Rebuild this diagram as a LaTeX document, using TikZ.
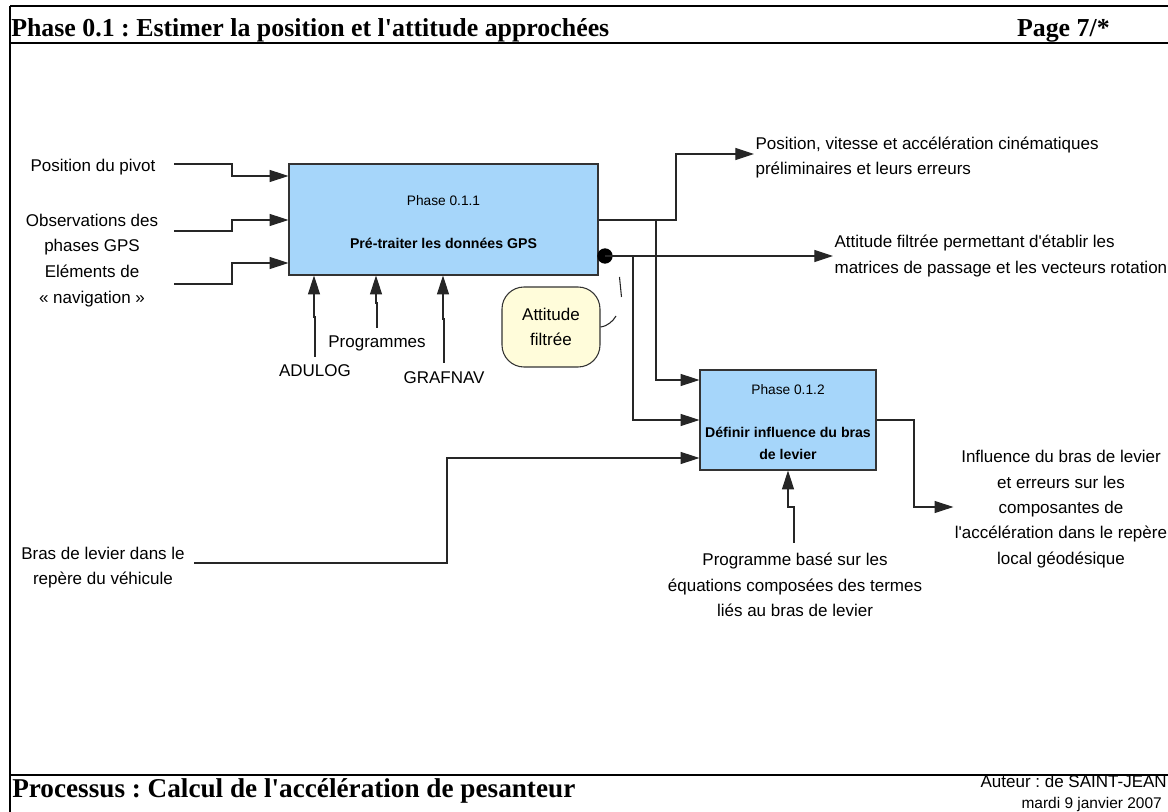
\documentclass[tikz,border=0pt]{standalone}
\usepackage{fontspec}
\setmainfont{Liberation Sans}
\newfontfamily\headfont{Liberation Serif}
\usetikzlibrary{arrows.meta,positioning}
\definecolor{phaseblue}{RGB}{166,214,250}
\definecolor{notecream}{RGB}{255,252,218}
\definecolor{edgegray}{RGB}{51,51,51}
\frenchspacing

\begin{document}
\begin{tikzpicture}[
    x=0.75pt, y=-0.75pt,
    phasebox/.style={draw=edgegray, fill=phaseblue, line width=0.9pt, inner sep=0pt},
    phaseid/.style={font=\fontsize{10.3}{12}\selectfont, inner sep=0pt},
    phasename/.style={font=\bfseries\fontsize{10.6}{16.5}\selectfont, align=center, inner sep=0pt},
    txt/.style={font=\fontsize{12.75}{19}\selectfont, align=center, inner sep=1pt},
    notebox/.style={draw=edgegray, fill=notecream, rounded corners=16.5pt, line width=0.8pt,
        minimum width=73.5pt, minimum height=60pt, inner sep=0pt, align=center,
        font=\fontsize{12.75}{19}\selectfont},
    flow/.style={-{Triangle[length=14pt, width=9pt]}, line width=0.8pt, black!85},
    wire/.style={line width=0.8pt, black!85},
    frameline/.style={line width=1.6pt},
    headtext/.style={font=\headfont\bfseries\fontsize{19.4}{22}\selectfont, inner sep=0pt}
]
    \useasboundingbox (0,0) rectangle (1168,812);

    % Frame
    \draw[line width=1pt] (10,6) -- (1168,6);
    \draw[frameline] (10,6) -- (10,812);
    \draw[frameline] (10,43) -- (1168,43);
    \draw[frameline] (10,775) -- (1168,775);
    \node[headtext, anchor=base west] (title) at (11,37) {Phase 0.1 : Estimer la position et l\textquotesingle attitude approchées};
    \node[headtext, anchor=base east] (page) at (1110,37) {Page 7/*};
    \node[headtext, anchor=base west, font=\headfont\bfseries\fontsize{20.4}{24}\selectfont] (proc) at (12,797) {Processus : Calcul de l\textquotesingle accélération de pesanteur};
    \node[anchor=base east, inner sep=0pt, font=\fontsize{12.75}{15}\selectfont] (author) at (1167,787) {Auteur : de SAINT-JEAN};
    \node[anchor=base east, inner sep=0pt, font=\fontsize{11.6}{14}\selectfont] (date) at (1162,808) {mardi 9 janvier 2007};

    % Phases
    \node[phasebox, minimum width=231.75pt, minimum height=83.25pt] (p011) at (443.5,219.5) {};
    \node[phaseid] (p011id) at (443.5,201) {Phase 0.1.1};
    \node[phasename] (p011name) at (443.5,243) {Pré-traiter les données GPS};
    \node[phasebox, minimum width=132pt, minimum height=75pt] (p012) at (788,420) {};
    \node[phaseid] (p012id) at (788,390) {Phase 0.1.2};
    \node[phasename] (p012name) at (788,443) {Définir influence du bras\\de levier};
    \node[notebox] (filt) at (551,327) {Attitude\\filtrée};

    % Labels
    \node[txt] (pivot) at (93,167) {Position du pivot};
    \node[txt] (obs) at (92,234.5) {Observations des\\phases GPS};
    \node[txt] (nav) at (92,286) {Eléments de\\« navigation »};
    \node[txt] (adulog) at (315,371) {ADULOG};
    \node[txt] (prog) at (377,343) {Programmes};
    \node[txt] (grafnav) at (444,378) {GRAFNAV};
    \node[txt, align=left, anchor=west] (kin) at (754,157.5) {Position, vitesse et accélération cinématiques\\préliminaires et leurs erreurs};
    \node[txt, align=left, anchor=west] (att) at (833,256) {Attitude filtrée permettant d\textquotesingle établir les\\matrices de passage et les vecteurs rotation};
    \node[txt] (bras) at (103,567.5) {Bras de levier dans le\\repère du véhicule};
    \node[txt] (eq) at (795,585) {Programme basé sur les\\équations composées des termes\\liés au bras de levier};
    \node[txt] (infl) at (1061,509) {Influence du bras de levier\\et erreurs sur les\\composantes de\\l\textquotesingle accélération dans le repère\\local géodésique};

    % Inputs
    \coordinate (c-pivot) at (174,164);
    \coordinate (c-obs) at (174,231);
    \coordinate (c-nav) at (174,284);
    \coordinate (c-bras) at (194,563);
    \draw[flow] (c-pivot) -- (232,164) |- (p011.west |- 0,176);
    \draw[flow] (c-obs) -- (232,231) |- (p011.west |- 0,220);
    \draw[flow] (c-nav) -- (232,284) |- (p011.west |- 0,263);
    \draw[flow] (c-bras) -| (447,458) -- (p012.west |- 0,458);

    % Mechanisms
    \coordinate (c-adulog) at (315,357);
    \coordinate (c-prog) at (377,328);
    \coordinate (c-grafnav) at (444,363);
    \coordinate (c-eq) at (794,543);
    \draw[flow] (c-adulog) -- (315,317) -- (314,317) -- (p011.south -| 314,0);
    \draw[flow] (c-prog) -- (377,303) -- (376,303) -- (p011.south -| 376,0);
    \draw[flow] (c-grafnav) -- (444,319) -- (443,319) -- (p011.south -| 443,0);
    \draw[flow] (c-eq) -- (794,507) -| (p012.south);

    % Outputs
    \node[circle, fill=black, inner sep=0pt, minimum size=11.5pt] (dot) at (605,256) {};
    \coordinate (j-kin) at (656,220);
    \coordinate (j-att) at (633,256);
    \draw[flow] (p011.east |- 0,220) -| (676,154) -- (kin.west |- 0,154);
    \draw[flow] (dot.center) -- (att.west |- dot.center);
    \draw[flow] (j-kin) |- (p012.west |- 0,380);
    \draw[flow] (j-att) |- (p012.west |- 0,420);
    \draw[flow] (p012.east |- 0,420) -| (914,507) -- (infl.west |- 0,507);

    % Squiggle
    \draw[wire] (filt.east) .. controls (608,326) and (613,321) .. (616,316);
    \draw[wire] (619.5,277) -- (621.5,297);
\end{tikzpicture}
\end{document}
